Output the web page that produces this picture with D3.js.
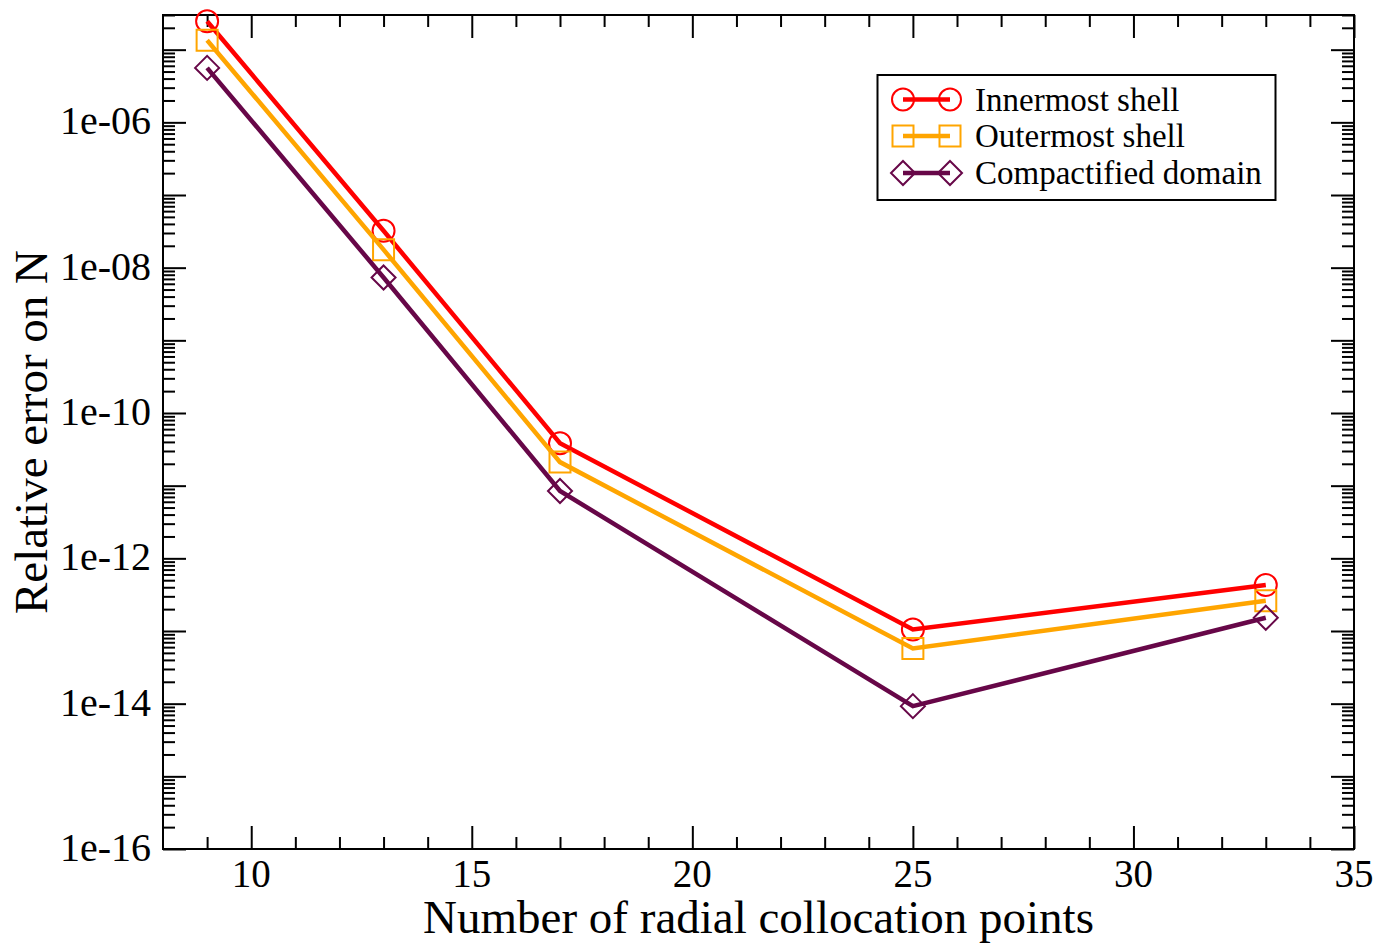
<!DOCTYPE html>
<html>
<head>
<meta charset="utf-8">
<script src="https://cdn.jsdelivr.net/npm/d3@7"></script>
<style>
  html, body { margin: 0; padding: 0; background: #fff; }
  svg { display: block; }
  text { font-family: "Liberation Serif", "Times New Roman", serif; fill: #000; }
</style>
</head>
<body>
<svg id="chart" width="1376" height="944"></svg>
<script>
// Number of radial collocation points
const points = [9, 13, 17, 25, 33];

// Relative error on N for each domain
const innermost = [2.46e-5, 3.22e-8, 3.84e-11, 1.05e-13, 4.29e-13];
const outermost = [1.35e-5, 1.77e-8, 2.11e-11, 5.75e-14, 2.61e-13];
const compactified = [5.61e-6, 7.33e-9, 8.45e-12, 9.25e-15, 1.52e-13];

const seriesNames = ["Innermost shell", "Outermost shell", "Compactified domain"];
const seriesColors = ["#ff0000", "#ffa500", "#670748"];
const seriesSymbols = ["circle", "square", "diamond"];

// Axis ticks
const xMajorTicks = [10, 15, 20, 25, 30, 35];
const yLabelExponents = [-16, -14, -12, -10, -8, -6];

(function () {
  const svg = d3.select("#chart");
  const pLeft = 163, pRight = 1354, pTop = 15, pBottom = 849;

  const x = d3.scaleLinear().domain([8, 35]).range([pLeft, pRight]);
  const y = d3.scaleLog().domain([1e-16, 3e-5]).range([pBottom, pTop]);

  // tick sets
  const xMinor = d3.range(9, 35).filter(v => v % 5 !== 0);
  const yMajor = d3.range(-16, -4).map(e => Math.pow(10, e));
  const yMinor = [];
  d3.range(-16, -4).forEach(e => {
    for (let m = 2; m <= 9; m++) {
      const v = m * Math.pow(10, e);
      if (v <= 3e-5 * 1.0001) yMinor.push(v);
    }
  });

  const MAJ = 23, MIN = 12;
  const axes = svg.append("g").attr("class", "axes");

  function tickAxis(gen, values, size, tx, ty) {
    const g = axes.append("g")
      .attr("transform", `translate(${tx},${ty})`)
      .call(gen.tickValues(values).tickSizeInner(-size).tickSizeOuter(0).tickFormat(""));
    g.select(".domain").remove();
    g.selectAll(".tick line").attr("stroke", "#000").attr("stroke-width", 2);
    return g;
  }

  // ticks on all four sides, pointing inward
  tickAxis(d3.axisBottom(x), xMajorTicks, MAJ, 0, pBottom);
  tickAxis(d3.axisBottom(x), xMinor, MIN, 0, pBottom);
  tickAxis(d3.axisTop(x), xMajorTicks, MAJ, 0, pTop);
  tickAxis(d3.axisTop(x), xMinor, MIN, 0, pTop);
  tickAxis(d3.axisLeft(y), yMajor, MAJ, pLeft, 0);
  tickAxis(d3.axisLeft(y), yMinor, MIN, pLeft, 0);
  tickAxis(d3.axisRight(y), yMajor, MAJ, pRight, 0);
  tickAxis(d3.axisRight(y), yMinor, MIN, pRight, 0);

  // tick labels
  axes.append("g").selectAll("text")
    .data(xMajorTicks)
    .join("text")
    .attr("x", d => x(d))
    .attr("y", 887)
    .attr("text-anchor", "middle")
    .attr("font-size", 39)
    .text(d => d);

  axes.append("g").selectAll("text")
    .data(yLabelExponents)
    .join("text")
    .attr("x", 151)
    .attr("y", d => y(Math.pow(10, d)) + 12)
    .attr("text-anchor", "end")
    .attr("font-size", 40)
    .text(d => "1e-" + String(-d).padStart(2, "0"));

  // frame
  axes.append("rect")
    .attr("x", pLeft).attr("y", pTop)
    .attr("width", pRight - pLeft).attr("height", pBottom - pTop)
    .attr("fill", "none").attr("stroke", "#000").attr("stroke-width", 2);

  // axis titles
  svg.append("text")
    .attr("x", (pLeft + pRight) / 2)
    .attr("y", 933)
    .attr("text-anchor", "middle")
    .attr("font-size", 47)
    .text("Number of radial collocation points");

  svg.append("text")
    .attr("transform", `translate(47,${(pTop + pBottom) / 2}) rotate(-90)`)
    .attr("text-anchor", "middle")
    .attr("font-size", 47)
    .text("Relative error on N");

  // markers
  function symbolPath(kind) {
    if (kind === "circle") return "M-11,0A11,11 0 1,0 11,0A11,11 0 1,0 -11,0Z";
    if (kind === "square") return "M-10.5,-10.5H10.5V10.5H-10.5Z";
    return "M0,-12L12,0L0,12L-12,0Z";
  }

  const seriesData = [innermost, outermost, compactified];
  const line = d3.line().x(d => x(d[0])).y(d => y(d[1]));
  const plot = svg.append("g");

  seriesData.forEach((vals, i) => {
    const pts = points.map((p, j) => [p, vals[j]]);
    const g = plot.append("g");
    g.append("path")
      .attr("d", line(pts))
      .attr("fill", "none")
      .attr("stroke", seriesColors[i])
      .attr("stroke-width", 4.5);
    g.selectAll("path.sym")
      .data(pts)
      .join("path")
      .attr("class", "sym")
      .attr("transform", d => `translate(${x(d[0])},${y(d[1])})`)
      .attr("d", symbolPath(seriesSymbols[i]))
      .attr("fill", "none")
      .attr("stroke", seriesColors[i])
      .attr("stroke-width", 2);
  });

  // legend
  const legend = svg.append("g");
  legend.append("rect")
    .attr("x", 877.5).attr("y", 75)
    .attr("width", 398).attr("height", 125)
    .attr("fill", "#fff").attr("stroke", "#000").attr("stroke-width", 2);

  const rowY = [99.5, 136, 173];
  seriesNames.forEach((name, i) => {
    const g = legend.append("g");
    g.append("line")
      .attr("x1", 903).attr("x2", 950)
      .attr("y1", rowY[i]).attr("y2", rowY[i])
      .attr("stroke", seriesColors[i]).attr("stroke-width", 4.5);
    [903, 950].forEach(cx => {
      g.append("path")
        .attr("transform", `translate(${cx},${rowY[i]})`)
        .attr("d", symbolPath(seriesSymbols[i]))
        .attr("fill", "none")
        .attr("stroke", seriesColors[i])
        .attr("stroke-width", 2);
    });
    g.append("text")
      .attr("x", 975)
      .attr("y", rowY[i] + 11)
      .attr("font-size", 33)
      .text(name);
  });
})();
</script>
</body>
</html>
